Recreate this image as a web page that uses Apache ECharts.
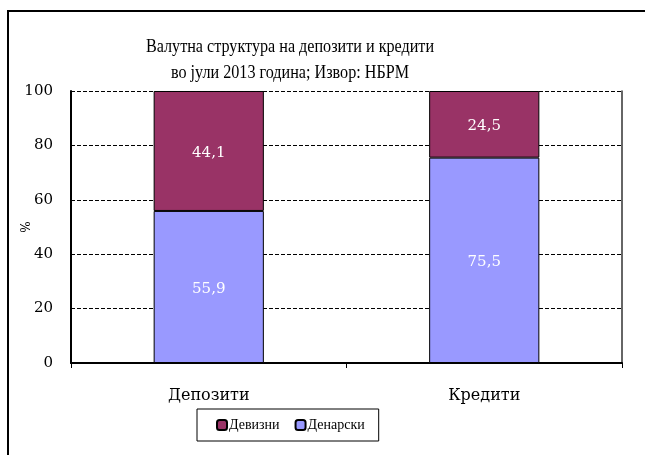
<!DOCTYPE html>
<html><head><meta charset="utf-8">
<script src="https://cdn.jsdelivr.net/npm/echarts@6/dist/echarts.min.js"></script>
<style>html,body{margin:0;padding:0;background:#fff}#c{width:645px;height:455px}</style>
</head><body><div id="c"></div>
<script>
var categories = ['Депозити', 'Кредити'];
var denarski = [55.9, 75.5];
var devizni = [44.1, 24.5];
var seriesNames = ['Девизни', 'Денарски'];
var titleLines = ['Валутна структура на депозити и кредити', 'во јули 2013 година; Извор: НБРМ'];
var yTicks = [0, 20, 40, 60, 80, 100];

var serif = '"DejaVu Serif", "Liberation Serif", serif';
var chart = echarts.init(document.getElementById('c'));
function fmt(p){ return String(p.value.toFixed(1)).replace('.', ','); }
var titleStyle = { fontFamily: '"Liberation Serif", serif', fontSize: 19, fill: '#000', textAlign: 'center', textVerticalAlign: 'middle' };
chart.setOption({
  animation: false,
  backgroundColor: '#fff',
  legend: {
    data: seriesNames,
    left: 197, top: 409,
    padding: [9, 14, 9, 19],
    borderColor: '#000', borderWidth: 1,
    itemWidth: 10, itemHeight: 10, itemGap: 15,
    textStyle: { fontFamily: '"Liberation Serif", serif', fontSize: 14, color: '#000', padding: [0, 0, 0, -3] }
  },
  grid: { left: 71, right: 23, top: 91, bottom: 92, containLabel: false, outerBoundsMode: 'none' },
  xAxis: {
    type: 'category', data: categories,
    axisLine: { lineStyle: { color: '#000', width: 2 } },
    axisTick: { show: true, length: 5, lineStyle: { color: '#000', width: 1 } },
    axisLabel: { fontFamily: serif, fontSize: 16, color: '#000', margin: 25 }
  },
  yAxis: [{
    type: 'value', min: 0, max: 100, interval: 20,
    name: '%', nameLocation: 'middle', nameGap: 38, nameRotate: 90, nameMoveOverlap: false,
    nameTextStyle: { fontFamily: serif, fontSize: 12, color: '#000' },
    axisLine: { show: true, lineStyle: { color: '#000', width: 2 } },
    axisTick: { show: false },
    axisLabel: { fontFamily: serif, fontSize: 15, color: '#000', margin: 18,
      formatter: function(v){ return yTicks.indexOf(v) >= 0 ? String(v) : ''; } },
    splitLine: { show: true, lineStyle: { color: '#000', type: [4, 2], width: 1 } }
  }, {
    type: 'value', min: 0, max: 100, interval: 20, position: 'right',
    axisLine: { show: true, lineStyle: { color: '#333', width: 1.5 } },
    axisTick: { show: false }, axisLabel: { show: false }, splitLine: { show: false }
  }],
  series: [{
    name: 'Денарски', type: 'bar', stack: 's', data: denarski, barWidth: '40%',
    itemStyle: { color: '#9999FF', borderColor: '#000', borderWidth: 1 },
    label: { show: true, position: 'inside', color: '#fff', fontFamily: serif, fontSize: 15, formatter: fmt, offset: [0, 2] }
  }, {
    name: 'Девизни', type: 'bar', stack: 's', data: devizni, barWidth: '40%',
    itemStyle: { color: '#993366', borderColor: '#000', borderWidth: 1 },
    label: { show: true, position: 'inside', color: '#fff', fontFamily: serif, fontSize: 15, formatter: fmt, offset: [0, 2] }
  }],
  graphic: [
    { type: 'polyline', shape: { points: [[8, 455], [8, 11], [645, 11]] }, style: { stroke: '#000', lineWidth: 2, fill: null } },
    { type: 'text', x: 290, y: 47, scaleX: 0.85, style: Object.assign({ text: titleLines[0] }, titleStyle) },
    { type: 'text', x: 290, y: 73, scaleX: 0.85, style: Object.assign({ text: titleLines[1] }, titleStyle) }
  ]
});
</script></body></html>
